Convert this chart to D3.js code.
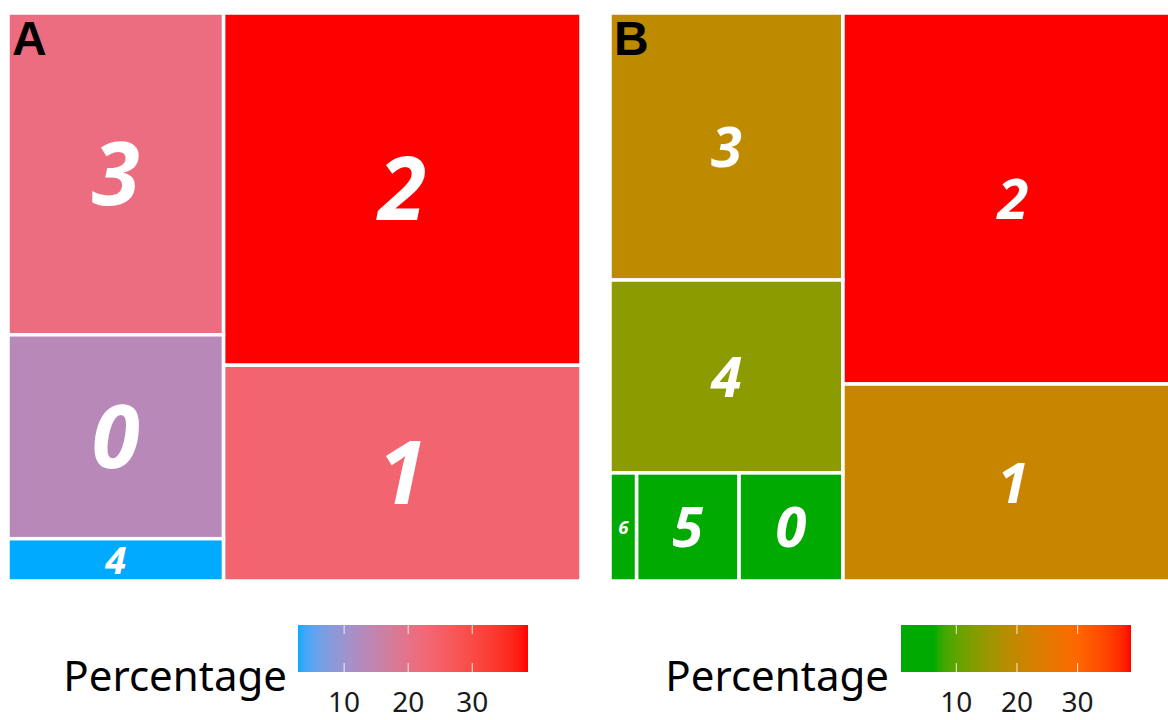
<!DOCTYPE html>
<html>
<head>
<meta charset="utf-8">
<script src="https://cdn.jsdelivr.net/npm/d3@7"></script>
<style>
  html, body { margin: 0; padding: 0; background: #ffffff; }
  svg { display: block; }
</style>
</head>
<body>
<svg id="chart" width="1168" height="720"></svg>
<script>
// Cluster shares (percent) for each panel
const categoriesA = ["2", "1", "3", "0", "4"];
const percentA = [38.7, 23.7, 21.3, 13.5, 2.8];

const categoriesB = ["2", "1", "3", "4", "0", "5", "6"];
const percentB = [38.8, 20.6, 19.1, 13.8, 3.45, 3.4, 0.88];

const legendTicks = [10, 20, 30];
const panelLetters = ["A", "B"];
const legendTitle = "Percentage";

const svg = d3.select("#chart");

const panelW = 573, panelH = 568, panelY = 13;

// blue -> mauve -> pink -> red
function colourA(ext) {
  return d3.scaleLinear().domain([ext[0], 13.5, 22, ext[1]])
    .range(["#00AAFF", "#B888B8", "#F06A7A", "#FF0000"])
    .interpolate(d3.interpolateLab).clamp(true);
}
// green (flat at the low end) -> gold -> orange -> red
function colourB(ext) {
  return d3.scaleLinear().domain([ext[0], 6.5, 20, 30, ext[1]])
    .range(["#00AA00", "#00AA00", "#C48700", "#FF6600", "#FF0000"])
    .interpolate(d3.interpolateLab).clamp(true);
}

function drawPanel(opts) {
  const { cats, vals, x0, letter, maxFont, colourFn, legendX, titleRight } = opts;
  const ext = d3.extent(vals);
  const colour = colourFn(ext);

  const root = d3.hierarchy({ children: cats.map((c, i) => ({ name: c, value: vals[i] })) })
    .sum(d => d.value || 0)
    .sort((a, b) => b.value - a.value);

  d3.treemap()
    .tile(d3.treemapSquarify.ratio(1))
    .size([panelW, panelH])(root);

  const g = svg.append("g").attr("transform", `translate(${x0},${panelY})`);

  // tiles laid out right-to-left: largest column on the right
  const leaves = root.leaves().map(d => ({
    name: d.data.name,
    value: d.data.value,
    x: panelW - d.x1,
    y: d.y0,
    w: d.x1 - d.x0,
    h: d.y1 - d.y0
  }));

  g.selectAll("rect.tile").data(leaves).join("rect")
    .attr("class", "tile")
    .attr("x", d => d.x)
    .attr("y", d => d.y)
    .attr("width", d => d.w)
    .attr("height", d => d.h)
    .attr("fill", d => colour(d.value))
    .attr("stroke", "#ffffff")
    .attr("stroke-width", 3.5);

  g.selectAll("text.lab").data(leaves).join("text")
    .attr("class", "lab")
    .attr("x", d => d.x + d.w / 2)
    .attr("y", d => d.y + d.h / 2)
    .attr("dy", "0.36em")
    .attr("text-anchor", "middle")
    .attr("fill", "#ffffff")
    .attr("font-family", "'Open Sans', 'Noto Sans', sans-serif")
    .attr("font-weight", 700)
    .attr("font-style", "italic")
    .attr("font-size", d => Math.min(maxFont, 0.9 * d.h, 0.7 * d.w))
    .text(d => d.name);

  svg.append("text")
    .attr("x", x0 + 4)
    .attr("y", 55)
    .attr("font-family", "'Liberation Sans', Arial, sans-serif")
    .attr("font-weight", 700)
    .attr("font-size", 48)
    .attr("fill", "#000000")
    .text(letter);

  // colour bar legend
  const barW = 230, barY = 625, barH = 47;
  const lx = d3.scaleLinear().domain(ext).range([legendX, legendX + barW]);
  const gradId = "grad" + letter;
  const grad = svg.append("defs").append("linearGradient")
    .attr("id", gradId).attr("x1", "0%").attr("x2", "100%").attr("y1", "0%").attr("y2", "0%");
  d3.range(0, 101).forEach(i => {
    const v = ext[0] + (ext[1] - ext[0]) * i / 100;
    grad.append("stop").attr("offset", i + "%").attr("stop-color", colour(v));
  });
  svg.append("rect")
    .attr("x", legendX).attr("y", barY).attr("width", barW).attr("height", barH)
    .attr("fill", `url(#${gradId})`);

  const tg = svg.append("g");
  legendTicks.forEach(t => {
    const tx = lx(t);
    tg.append("line").attr("x1", tx).attr("x2", tx).attr("y1", barY).attr("y2", barY + 9)
      .attr("stroke", "#ffffff").attr("stroke-opacity", 0.85).attr("stroke-width", 1);
    tg.append("line").attr("x1", tx).attr("x2", tx).attr("y1", barY + barH - 9).attr("y2", barY + barH)
      .attr("stroke", "#ffffff").attr("stroke-opacity", 0.85).attr("stroke-width", 1);
    tg.append("text").attr("x", tx).attr("y", 712)
      .attr("text-anchor", "middle")
      .attr("font-family", "'Noto Sans', 'Open Sans', sans-serif")
      .attr("font-size", 28)
      .attr("fill", "#1a1a1a")
      .text(t);
  });

  svg.append("text")
    .attr("x", titleRight).attr("y", 691)
    .attr("text-anchor", "end")
    .attr("font-family", "'Noto Sans', 'Open Sans', sans-serif")
    .attr("font-size", 42)
    .attr("fill", "#000000")
    .text(legendTitle);
}

drawPanel({ cats: categoriesA, vals: percentA, x0: 8, letter: panelLetters[0], maxFont: 87,
  colourFn: colourA, legendX: 298, titleRight: 287 });
drawPanel({ cats: categoriesB, vals: percentB, x0: 610, letter: panelLetters[1], maxFont: 56,
  colourFn: colourB, legendX: 901, titleRight: 889 });
</script>
</body>
</html>
